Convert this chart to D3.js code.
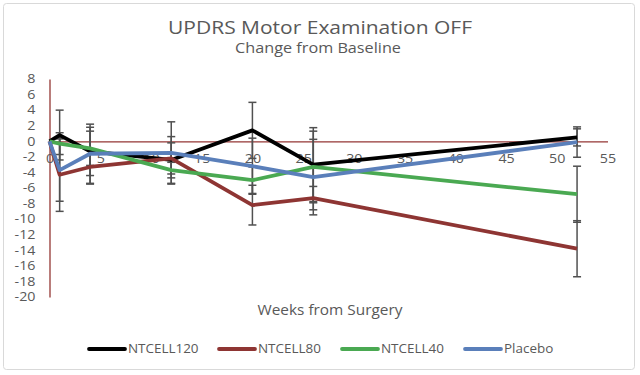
<!DOCTYPE html>
<html>
<head>
<meta charset="utf-8">
<script src="https://cdn.jsdelivr.net/npm/d3@7"></script>
<style>
  body { margin: 0; background: #fff; }
  svg text { font-family: "Open Sans", "Noto Sans", sans-serif; fill: #595959; }
</style>
</head>
<body>
<div id="chart"></div>
<script>
// weeks from surgery
const weeks = [0, 1, 4, 12, 20, 26, 52];

// change from baseline, one array per group
const ntcell120 = [0, 0.8, -1.3, -2.4, 1.4, -3.0, 0.5];
const ntcell80 = [0, -4.3, -3.3, -2.2, -8.2, -7.3, -13.8];
const ntcell40 = [0, -0.3, -0.9, -3.7, -5.0, -3.3, -6.8];
const placebo = [0, -3.7, -1.6, -1.5, -3.2, -4.6, -0.1];

// error bar half-lengths
const err120 = [0, 3.2, 3.1, 3.0, 3.6, 4.75, 1.1];
const err80 = [0, 4.7, 2.2, 2.0, 2.55, 1.5, 3.6];
const err40 = [0, 1.4, 2.2, 1.0, 1.7, 4.6, 3.6];
const errPlacebo = [0, 4.0, 3.8, 4.0, 3.6, 4.85, 1.95];

const seriesNames = ["NTCELL120", "NTCELL80", "NTCELL40", "Placebo"];
const xTicks = d3.range(0, 56, 5);
const yTicks = d3.range(-20, 9, 2);

const width = 640, height = 375;
const svg = d3.select("#chart").append("svg")
  .attr("width", width)
  .attr("height", height);

// chart frame
svg.append("rect")
  .attr("x", 3.5).attr("y", 3.5)
  .attr("width", 631).attr("height", 366)
  .attr("rx", 3)
  .attr("fill", "#fff")
  .attr("stroke", "#d9d9d9");

const x = d3.scaleLinear().domain([0, 55]).range([49.5, 607.5]);
const y = d3.scaleLinear().domain([-20, 8]).range([297, 79]);

const color = d3.scaleOrdinal()
  .domain(seriesNames)
  .range(["#000000", "#8e3533", "#4aa952", "#5a7fba"]);

const series = [
  { name: "NTCELL120", values: ntcell120, err: err120 },
  { name: "NTCELL80", values: ntcell80, err: err80 },
  { name: "NTCELL40", values: ntcell40, err: err40 },
  { name: "Placebo", values: placebo, err: errPlacebo }
];

// the original text is a little wide, so stretch it sideways
function wideText(g, px, py, size, sx, str) {
  return g.append("text")
    .attr("transform", `translate(${px},${py}) scale(${sx},1)`)
    .attr("text-anchor", "middle")
    .style("font-size", size + "px")
    .text(str);
}

// titles
wideText(svg, 320, 34, 17.5, 1.2, "UPDRS Motor Examination OFF");
wideText(svg, 318, 53, 14.5, 1.12, "Change from Baseline");

// y axis
const yAxis = svg.append("g")
  .attr("transform", `translate(${x(0)},0)`)
  .call(d3.axisLeft(y).tickValues(yTicks).tickSize(0)
    .tickFormat(d => String(d)));
yAxis.select(".domain").attr("stroke", "#943634").attr("stroke-width", 1.3);
yAxis.selectAll("text")
  .attr("x", null)
  .attr("transform", "translate(-14,0) scale(1.22,1)")
  .style("font-size", "11.7px").attr("fill", "#595959");

// x axis at zero
const xAxis = svg.append("g")
  .attr("transform", `translate(0,${y(0)})`)
  .call(d3.axisBottom(x).tickValues(xTicks).tickSize(0).tickPadding(13.5)
    .tickFormat(d => String(d)));
xAxis.select(".domain").attr("stroke", "#943634").attr("stroke-width", 1.3);
xAxis.selectAll("text")
  .attr("transform", "scale(1.22,1)")
  .style("font-size", "11.7px").attr("fill", "#595959");

wideText(svg, 330, 315, 14, 1.1, "Weeks from Surgery");

// error bars
const bars = [];
series.forEach(s => {
  weeks.forEach((w, i) => {
    if (s.err[i] > 0) bars.push({ w: w, lo: s.values[i] - s.err[i], hi: s.values[i] + s.err[i] });
  });
});
const eb = svg.append("g").attr("stroke", "#505050").attr("stroke-width", 1.5);
eb.selectAll("line.v").data(bars).join("line")
  .attr("class", "v")
  .attr("x1", d => x(d.w)).attr("x2", d => x(d.w))
  .attr("y1", d => y(d.lo)).attr("y2", d => y(d.hi));
eb.selectAll("line.top").data(bars).join("line")
  .attr("class", "top")
  .attr("x1", d => x(d.w) - 4).attr("x2", d => x(d.w) + 4)
  .attr("y1", d => y(d.hi)).attr("y2", d => y(d.hi));
eb.selectAll("line.bot").data(bars).join("line")
  .attr("class", "bot")
  .attr("x1", d => x(d.w) - 4).attr("x2", d => x(d.w) + 4)
  .attr("y1", d => y(d.lo)).attr("y2", d => y(d.lo));

// lines
const line = d3.line()
  .x((d, i) => x(weeks[i]))
  .y(d => y(d));
svg.selectAll("path.series").data(series).join("path")
  .attr("class", "series")
  .attr("d", d => line(d.values))
  .attr("fill", "none")
  .attr("stroke", d => color(d.name))
  .attr("stroke-width", 3.8)
  .attr("stroke-linejoin", "round");

// legend
const legendX = [89, 219, 342, 465];
const legend = svg.selectAll("g.legend").data(seriesNames).join("g")
  .attr("class", "legend")
  .attr("transform", (d, i) => `translate(${legendX[i]},349)`);
legend.append("line")
  .attr("x1", 0).attr("x2", 36)
  .attr("stroke", d => color(d))
  .attr("stroke-width", 3.8)
  .attr("stroke-linecap", "round");
legend.append("text")
  .attr("transform", "translate(39,0) scale(1.15,1)")
  .attr("dy", "0.35em")
  .style("font-size", "11.7px")
  .text(d => d);
</script>
</body>
</html>
